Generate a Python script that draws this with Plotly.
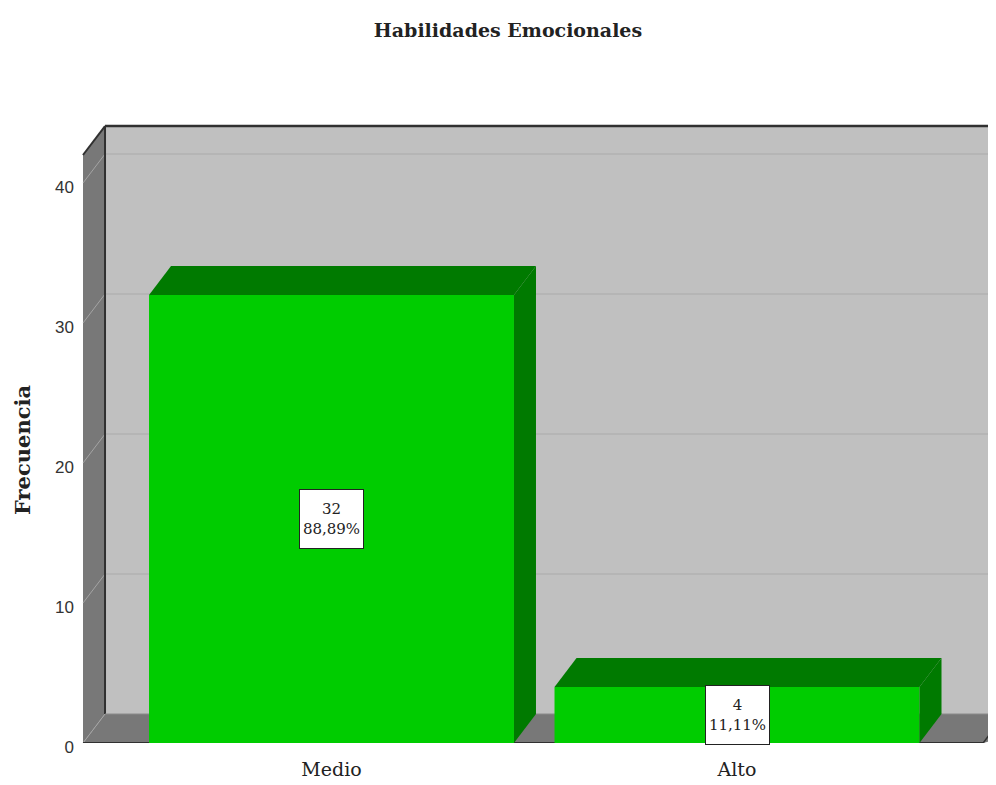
import plotly.graph_objects as go

# ---- data ----
categories = ["Medio", "Alto"]
frequencies = [32, 4]
percent_labels = ["88,89%", "11,11%"]
y_ticks = [0, 10, 20, 30, 40]
title_text = "Habilidades Emocionales"
y_title = "Frecuencia"

# ---- 3D frame geometry (axis units) ----
AX_MAX = 42          # top of the frame (front value scale)
DX = 0.0543          # depth offset along x (category units)
DY = 2.07            # depth offset along y (value units)
BAR_W = 0.9
X_MIN, X_MAX = -0.6202, 1.6387
Y_MAX = 44.5
WALL_X = -0.6128     # front edge of left wall
FLOOR_R = 1.607      # front right edge of floor

# page has an 8px body margin; figure coordinates compensate for it
OFF = 8
FIG_W, FIG_H = 996 - OFF, 785 - OFF
M_L, M_T, M_B = 80 - OFF, 120 - OFF, 42
PLOT_W = FIG_W - M_L
PLOT_H = FIG_H - M_T - M_B

x_pos = list(range(len(categories)))

GREEN = "#00CC00"
DARK_GREEN = "#007A00"
WALL = "#787878"
BACK = "#C0C0C0"
EDGE = "#303030"

shapes = []
# back wall
shapes.append(dict(type="rect", xref="x", yref="y", x0=WALL_X + DX, x1=X_MAX + 0.2,
                   y0=DY, y1=AX_MAX + DY, fillcolor=BACK, line=dict(width=0), layer="below"))
# left wall
shapes.append(dict(type="path", xref="x", yref="y",
                   path=f"M {WALL_X},0 L {WALL_X+DX},{DY} L {WALL_X+DX},{AX_MAX+DY} L {WALL_X},{AX_MAX} Z",
                   fillcolor=WALL, line=dict(width=0), layer="below"))
# floor
shapes.append(dict(type="path", xref="x", yref="y",
                   path=f"M {WALL_X},0 L {WALL_X+DX},{DY} L {FLOOR_R+DX+0.2},{DY} L {FLOOR_R},0 Z",
                   fillcolor=WALL, line=dict(width=0), layer="below"))
# grid lines (back wall + left wall diagonals)
for t in y_ticks:
    if t > 0:
        shapes.append(dict(type="line", xref="x", yref="y", x0=WALL_X + DX, x1=X_MAX + 0.2,
                           y0=t + DY, y1=t + DY, line=dict(color="#B2B2B2", width=1.5), layer="below"))
    shapes.append(dict(type="line", xref="x", yref="y", x0=WALL_X, x1=WALL_X + DX,
                       y0=t, y1=t + DY, line=dict(color="#A4A4A4", width=1), layer="below"))
# frame edges
shapes.append(dict(type="line", xref="x", yref="y", x0=WALL_X + DX, x1=X_MAX + 0.2,
                   y0=AX_MAX + DY, y1=AX_MAX + DY, line=dict(color=EDGE, width=2.5), layer="below"))
shapes.append(dict(type="line", xref="x", yref="y", x0=WALL_X + DX, x1=WALL_X + DX,
                   y0=DY, y1=AX_MAX + DY, line=dict(color=EDGE, width=2), layer="below"))
shapes.append(dict(type="line", xref="x", yref="y", x0=WALL_X, x1=WALL_X + DX,
                   y0=AX_MAX, y1=AX_MAX + DY, line=dict(color=EDGE, width=2), layer="below"))
shapes.append(dict(type="line", xref="x", yref="y", x0=WALL_X, x1=FLOOR_R,
                   y0=0, y1=0, line=dict(color=EDGE, width=2), layer="below"))
shapes.append(dict(type="line", xref="x", yref="y", x0=FLOOR_R, x1=FLOOR_R + DX,
                   y0=0, y1=DY, line=dict(color=EDGE, width=1.5), layer="below"))
shapes.append(dict(type="line", xref="x", yref="y", x0=WALL_X + DX, x1=FLOOR_R + DX + 0.2,
                   y0=DY, y1=DY, line=dict(color="#8A8A8A", width=1), layer="below"))

# bar tops and sides
for xi, v in zip(x_pos, frequencies):
    l, r = xi - BAR_W / 2, xi + BAR_W / 2
    shapes.append(dict(type="path", xref="x", yref="y",
                       path=f"M {l},{v} L {l+DX},{v+DY} L {r+DX},{v+DY} L {r},{v} Z",
                       fillcolor=DARK_GREEN, line=dict(width=0), layer="above"))
    shapes.append(dict(type="path", xref="x", yref="y",
                       path=f"M {r},0 L {r},{v} L {r+DX},{v+DY} L {r+DX},{DY} Z",
                       fillcolor=DARK_GREEN, line=dict(width=0), layer="above"))

fig = go.Figure(go.Bar(
    x=x_pos, y=frequencies, width=BAR_W,
    marker=dict(color=GREEN, line=dict(width=0)),
    hoverinfo="skip", showlegend=False,
))

annotations = []
for xi, v, p in zip(x_pos, frequencies, percent_labels):
    annotations.append(dict(
        x=xi, y=v / 2, xref="x", yref="y", text=f"{v}<br>{p}", showarrow=False,
        font=dict(family="DejaVu Serif", size=15, color="#222222"),
        bgcolor="white", bordercolor="#222222", borderwidth=1, borderpad=1,
        width=61, height=56, align="center",
    ))
annotations.append(dict(
    x=(22 - 80) / PLOT_W, y=(743 - 450) / PLOT_H, xref="paper", yref="paper",
    text=f"<b>{y_title}</b>", textangle=-90, showarrow=False,
    font=dict(family="DejaVu Serif", size=21, color="#222222"),
    xanchor="center", yanchor="middle",
))

fig.update_layout(
    width=FIG_W, height=FIG_H,
    margin=dict(l=M_L, r=0, t=M_T, b=M_B),
    paper_bgcolor="white", plot_bgcolor="white",
    title=dict(text=f"<b>{title_text}</b>", x=(508 - OFF) / FIG_W, xanchor="center",
               y=1 - (30 - OFF) / FIG_H, yanchor="middle", yref="container",
               font=dict(family="DejaVu Serif", size=19, color="#222222")),
    xaxis=dict(range=[X_MIN, X_MAX], tickvals=x_pos, ticktext=categories,
               showgrid=False, zeroline=False, showline=False, ticks="",
               ticklabelstandoff=13,
               tickfont=dict(family="DejaVu Serif", size=19, color="#222222")),
    yaxis=dict(range=[0, Y_MAX], tickvals=y_ticks, showgrid=False, zeroline=False,
               showline=False, ticks="", ticklabelstandoff=5, ticklabelshift=4,
               tickfont=dict(family="Liberation Sans", size=17, color="#333333")),
    shapes=shapes, annotations=annotations, bargap=0.1,
)

fig.write_html("out.html")
